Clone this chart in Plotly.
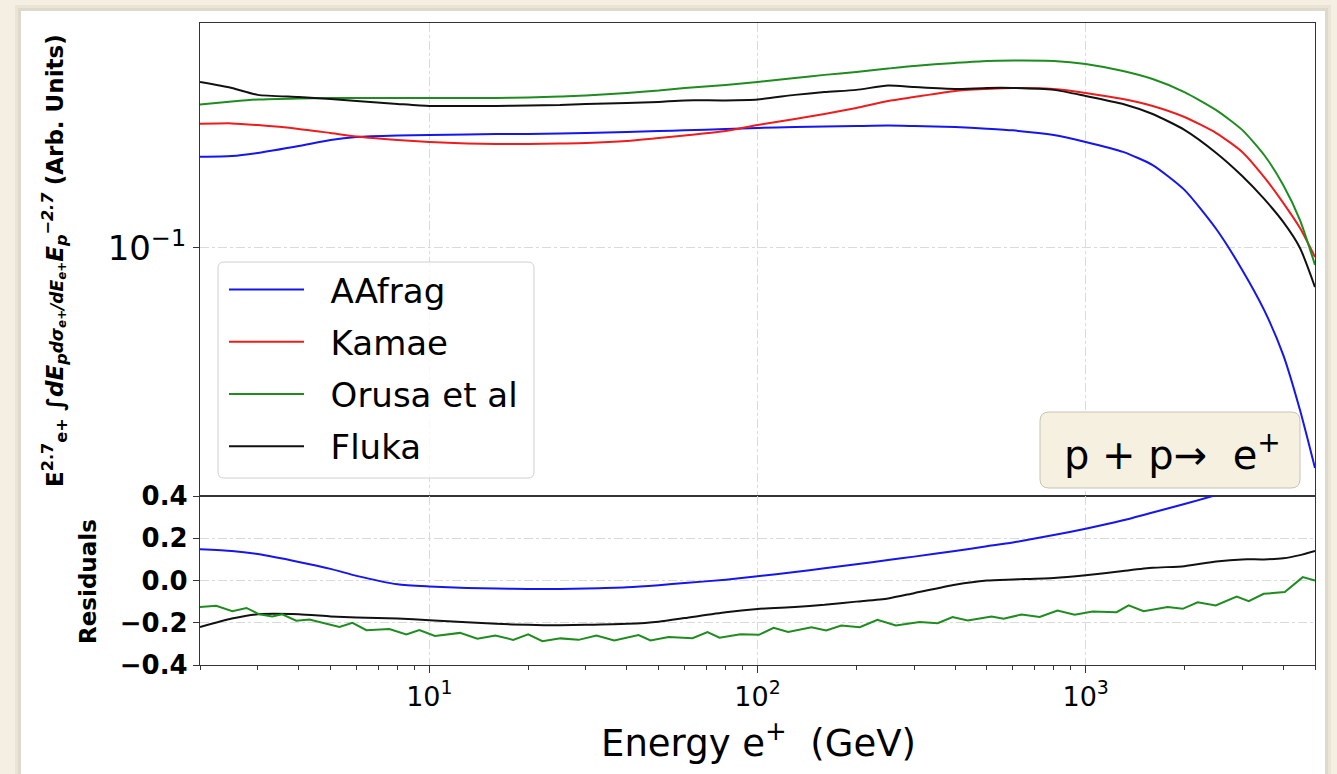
import math
import plotly.graph_objects as go

# ---------------------------------------------------------------- data
# Positron-energy grid (GeV) for the spectrum curves
E_GRID = [2, 2.5, 3, 4, 5, 6, 8, 10, 13, 16, 20, 25, 30, 40, 50, 60, 80, 100,
          130, 160, 200, 250, 300, 400, 500, 600, 800, 1000, 1300, 1600, 2000,
          2500, 3000, 3500, 4000, 4500, 5000]

# E^2.7-weighted e+ spectra (arbitrary units)
AAFRAG = [0.1305, 0.1308, 0.1320, 0.1347, 0.1371, 0.1383, 0.1389, 0.1391, 0.1393, 0.1395,
          0.1395, 0.1397, 0.1399, 0.1403, 0.1407, 0.1410, 0.1416, 0.1420, 0.1424, 0.1426,
          0.1428, 0.1430, 0.1428, 0.1424, 0.1417, 0.1410, 0.1391, 0.1363, 0.1324, 0.1274,
          0.1185, 0.1057, 0.0938, 0.0834, 0.0732, 0.0623, 0.0526]
KAMAE = [0.1437, 0.1439, 0.1432, 0.1416, 0.1399, 0.1385, 0.1371, 0.1363, 0.1357, 0.1355,
         0.1355, 0.1357, 0.1359, 0.1367, 0.1379, 0.1389, 0.1407, 0.1432, 0.1458, 0.1479,
         0.1505, 0.1536, 0.1554, 0.1582, 0.1591, 0.1596, 0.1591, 0.1573, 0.1545, 0.1514,
         0.1466, 0.1399, 0.1324, 0.1230, 0.1141, 0.1060, 0.0974]
ORUSA = [0.1521, 0.1534, 0.1543, 0.1548, 0.1550, 0.1550, 0.1550, 0.1550, 0.1550, 0.1550,
         0.1552, 0.1557, 0.1561, 0.1573, 0.1584, 0.1596, 0.1610, 0.1624, 0.1643, 0.1658,
         0.1672, 0.1689, 0.1702, 0.1717, 0.1727, 0.1729, 0.1727, 0.1712, 0.1677, 0.1638,
         0.1577, 0.1496, 0.1412, 0.1312, 0.1202, 0.1085, 0.0952]
FLUKA = [0.1624, 0.1596, 0.1564, 0.1554, 0.1545, 0.1536, 0.1523, 0.1514, 0.1514, 0.1514,
         0.1516, 0.1518, 0.1523, 0.1527, 0.1532, 0.1539, 0.1539, 0.1543, 0.1564, 0.1577,
         0.1587, 0.1607, 0.1600, 0.1591, 0.1596, 0.1596, 0.1587, 0.1559, 0.1523, 0.1479,
         0.1412, 0.1320, 0.1234, 0.1154, 0.1079, 0.1000, 0.0892]

# Residuals
RES_E_AAFRAG = E_GRID[:33]
RES_AAFRAG = [0.148, 0.140, 0.125, 0.088, 0.055, 0.022, -0.018, -0.028, -0.035, -0.038,
              -0.040, -0.040, -0.038, -0.032, -0.022, -0.012, 0.004, 0.020, 0.040, 0.058,
              0.077, 0.097, 0.113, 0.140, 0.162, 0.180, 0.215, 0.245, 0.285, 0.322,
              0.362, 0.405, 0.445]
RES_FLUKA = [-0.22, -0.18, -0.16, -0.16, -0.17, -0.175, -0.18, -0.188, -0.198, -0.205,
             -0.21, -0.212, -0.21, -0.205, -0.195, -0.178, -0.15, -0.135, -0.125, -0.115,
             -0.10, -0.085, -0.06, -0.02, 0.0, 0.005, 0.012, 0.025, 0.045, 0.06,
             0.068, 0.09, 0.10, 0.10, 0.105, 0.12, 0.14]
RES_E_ORUSA = [2.0, 2.24, 2.51, 2.77, 3.03, 3.32, 3.56, 3.93, 4.31, 4.72, 5.32, 5.83, 6.43,
               7.55, 8.51, 9.32, 10.4, 12.4, 14.0, 15.9, 18.0, 20.0, 22.1, 25.1, 28.5, 32.3,
               36.6, 43.4, 47.2, 53.6, 63.4, 70.4, 76.6, 88.8, 101, 112, 124, 146, 162, 180,
               205, 232, 264, 312, 354, 393, 437, 517, 562, 638, 724, 821, 926, 1050, 1243,
               1352, 1502, 1778, 1976, 2195, 2491, 2886, 3141, 3489, 4044, 4588, 5000]
RES_ORUSA = [-0.125, -0.12, -0.145, -0.13, -0.16, -0.17, -0.16, -0.19, -0.185, -0.20,
             -0.22, -0.20, -0.235, -0.23, -0.255, -0.235,
             -0.263, -0.248, -0.276, -0.260, -0.281, -0.255, -0.287, -0.274, -0.281, -0.260,
             -0.284, -0.258, -0.284, -0.268, -0.273, -0.244, -0.271, -0.255, -0.257, -0.224,
             -0.244, -0.221, -0.236, -0.213, -0.221, -0.186, -0.213, -0.197, -0.202, -0.173,
             -0.189, -0.170, -0.181, -0.161, -0.173, -0.142, -0.162, -0.147, -0.150, -0.118,
             -0.145, -0.126, -0.134, -0.103, -0.118, -0.076, -0.098, -0.063, -0.055, 0.016,
             0.0]

SERIES = ["AAfrag", "Kamae", "Orusa et al", "Fluka"]
COLORS = {"AAfrag": "#1515f0", "Kamae": "#ee1c1c", "Orusa et al": "#1e8c1e", "Fluka": "#111111"}

X_TICKS = [10, 100, 1000]
X_TICK_TEXT = ["10<sup>1</sup>", "10<sup>2</sup>", "10<sup>3</sup>"]
X_MINOR = [m * 10 ** k for k in range(0, 4) for m in range(2, 10) if 2 <= m * 10 ** k <= 5000]
Y_TICKS_TOP = [0.1]
Y_TICK_TEXT_TOP = ["10<sup>\u22121</sup>"]
RES_TICKS = [-0.4, -0.2, 0.0, 0.2, 0.4]

# ---------------------------------------------------------------- layout helpers
W, H = 1337, 774
FONT = "DejaVu Sans"


def fx(px):
    return px / W


def fy(py):
    return 1 - py / H


def rounded_rect(x0, y0, x1, y1, r):
    """SVG path (paper coordinates) of a rectangle with rounded corners."""
    a, b, c, d = fx(x0), fy(y0), fx(x1), fy(y1)
    rx, ry = r / W, r / H
    return (f"M{a + rx},{b} L{c - rx},{b} Q{c},{b} {c},{b - ry} "
            f"L{c},{d + ry} Q{c},{d} {c - rx},{d} L{a + rx},{d} "
            f"Q{a},{d} {a},{d + ry} L{a},{b - ry} Q{a},{b} {a + rx},{b} Z")


# ---------------------------------------------------------------- figure
fig = go.Figure()

PAD = "\u00a0\u00a0"  # gap between legend sample line and its label
spectra = {"AAfrag": AAFRAG, "Kamae": KAMAE, "Orusa et al": ORUSA, "Fluka": FLUKA}
for name in SERIES:
    fig.add_trace(go.Scatter(
        x=E_GRID, y=spectra[name], mode="lines", name=PAD + name,
        line=dict(color=COLORS[name], width=2, shape="spline", smoothing=0.6),
        xaxis="x", yaxis="y", legendgroup=name))

fig.add_trace(go.Scatter(
    x=RES_E_AAFRAG, y=RES_AAFRAG, mode="lines", showlegend=False,
    line=dict(color=COLORS["AAfrag"], width=2, shape="spline", smoothing=0.6),
    xaxis="x2", yaxis="y2"))
fig.add_trace(go.Scatter(
    x=E_GRID, y=RES_FLUKA, mode="lines", showlegend=False,
    line=dict(color=COLORS["Fluka"], width=2, shape="spline", smoothing=0.6),
    xaxis="x2", yaxis="y2"))
fig.add_trace(go.Scatter(
    x=RES_E_ORUSA, y=RES_ORUSA, mode="lines", showlegend=False,
    line=dict(color=COLORS["Orusa et al"], width=2),
    xaxis="x2", yaxis="y2"))

x_range = [math.log10(2), math.log10(5000)]
grid = dict(showgrid=True, gridcolor="#dadada", gridwidth=1, griddash="dashdot")
frame = dict(showline=True, linecolor="#333333", linewidth=1.3, mirror=True, zeroline=False)

fig.update_layout(
    width=W, height=H,
    margin=dict(l=0, r=0, t=0, b=0, pad=0, autoexpand=False),
    paper_bgcolor="#f4efe2",
    plot_bgcolor="white",
    font=dict(family=FONT, color="black"),
    xaxis=dict(domain=[fx(200), fx(1315)], type="log", range=x_range, anchor="y",
               tickmode="array", tickvals=X_TICKS, showticklabels=False, ticks="",
               **grid, **frame),
    yaxis=dict(domain=[fy(496), fy(23)], type="log", range=[-1.3146, -0.7146], anchor="x",
               tickmode="array", tickvals=Y_TICKS_TOP, ticktext=Y_TICK_TEXT_TOP,
               ticks="outside", ticklen=6, tickwidth=1.3, tickcolor="#333333",
               tickfont=dict(size=34, family=FONT, color="black"),
               **grid, **frame),
    xaxis2=dict(domain=[fx(200), fx(1315)], type="log", range=x_range, anchor="y2",
                tickmode="array", tickvals=X_TICKS, ticktext=X_TICK_TEXT,
                ticks="outside", ticklen=7, tickwidth=1.3, tickcolor="#333333",
                tickfont=dict(size=27, family=FONT, color="black"),
                minor=dict(tickmode="array", tickvals=X_MINOR, ticks="outside",
                           ticklen=4, tickwidth=1, tickcolor="#333333", showgrid=False),
                **grid, **frame),
    yaxis2=dict(domain=[fy(665), fy(496)], range=[-0.4, 0.4], anchor="x2",
                tickmode="array", tickvals=RES_TICKS, tickformat=".1f",
                ticks="outside", ticklen=6, tickwidth=1.3, tickcolor="#333333",
                tickfont=dict(size=26, family=FONT, color="black", weight="bold"),
                **grid, **frame),
    legend=dict(x=fx(224), y=fy(261), xanchor="left", yanchor="top",
                bgcolor="rgba(0,0,0,0)", borderwidth=0,
                font=dict(size=34, family=FONT, color="black"),
                traceorder="grouped", tracegroupgap=5, itemwidth=75),
    showlegend=True,
)

shapes = [
    # soft shadow around the white card
    dict(type="rect", xref="paper", yref="paper", x0=fx(15), x1=fx(1331), y0=fy(774), y1=fy(5),
         fillcolor="rgba(150,140,120,0.10)", line=dict(width=0), layer="below"),
    dict(type="rect", xref="paper", yref="paper", x0=fx(18), x1=fx(1328), y0=fy(774), y1=fy(8),
         fillcolor="rgba(150,140,120,0.12)", line=dict(width=0), layer="below"),
    # white card
    dict(type="rect", xref="paper", yref="paper", x0=fx(21), x1=fx(1325), y0=fy(774), y1=fy(11),
         fillcolor="white", line=dict(width=0), layer="below"),
    # legend frame
    dict(type="path", xref="paper", yref="paper", path=rounded_rect(218, 262, 534, 478, 6),
         fillcolor="rgba(255,255,255,0.8)", line=dict(color="#d0d0d0", width=1), layer="above"),
    # reaction label box
    dict(type="path", xref="paper", yref="paper", path=rounded_rect(1040, 412, 1300, 488, 9),
         fillcolor="#f6f0e1", line=dict(color="#c8c2b4", width=1), layer="above"),
]
fig.update_layout(shapes=shapes)

y_title = ("<b>E<sup>2.7</sup><sub>e+</sub></b> <b><i>\u222bdE<sub>p</sub></i></b>"
           "<span style='font-size:17px'><b><i>d\u03c3<sub>e+</sub>/dE<sub>e+</sub></i></b></span>"
           "<b><i>E<sub>p</sub><sup>\u22122.7</sup></i></b> <b>(Arb. Units)</b>")
annotations = [
    dict(text=y_title, x=fx(55), y=fy(261), xref="paper", yref="paper", showarrow=False,
         textangle=-90, font=dict(size=23, family=FONT, color="black"),
         xanchor="center", yanchor="middle"),
    dict(text="<b>Residuals</b>", x=fx(88), y=fy(582), xref="paper", yref="paper",
         showarrow=False, textangle=-90, font=dict(size=23, family=FONT, color="black"),
         xanchor="center", yanchor="middle"),
    dict(text="Energy e<sup>+</sup>  (GeV)", x=fx(758), y=fy(740), xref="paper", yref="paper",
         showarrow=False, font=dict(size=37, family=FONT, color="black"),
         xanchor="center", yanchor="middle"),
    dict(text="p + p\u2192\u00a0 e<sup>+</sup>", x=fx(1172), y=fy(452), xref="paper",
         yref="paper", showarrow=False, font=dict(size=40, family=FONT, color="black"),
         xanchor="center", yanchor="middle"),
]
fig.update_layout(annotations=annotations)

fig.write_html("out.html")
